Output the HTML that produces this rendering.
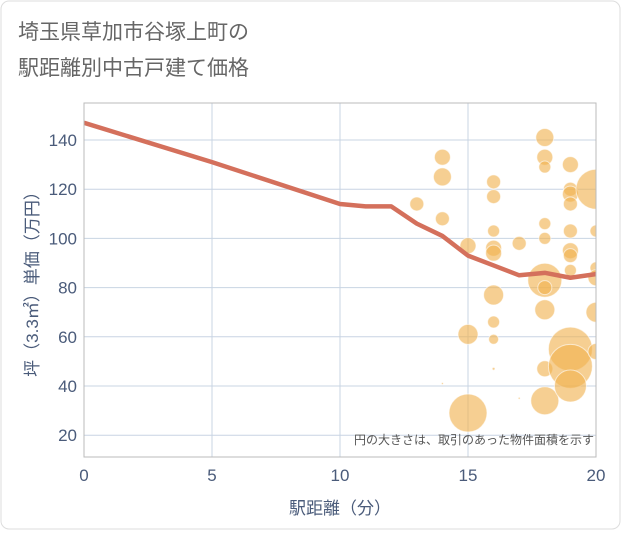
<!DOCTYPE html>
<html><head><meta charset="utf-8"><style>
body{margin:0;background:#fff;}
svg text{font-family:"Liberation Sans","Noto Sans CJK JP",sans-serif;}
</style></head><body>
<svg width="621" height="530">
<defs><clipPath id="plotclip"><rect x="84" y="103" width="512" height="354"/></clipPath></defs>
<rect x="1" y="1" width="619" height="528" rx="8" fill="#fff" stroke="#ddd"/>
<text x="18" y="39" font-size="21" fill="#666">埼玉県草加市谷塚上町の</text>
<text x="18" y="75" font-size="21" fill="#666">駅距離別中古戸建て価格</text>
<g id="grid"></g>
<g id="bubbles" clip-path="url(#plotclip)"></g>
<g id="line" clip-path="url(#plotclip)"></g>
<g id="axes"></g>
<rect x="84" y="103" width="512" height="354" fill="none" stroke="#bbb"/>
<text x="594" y="444" font-size="12" fill="#555" text-anchor="end">円の大きさは、取引のあった物件面積を示す</text>
<text x="340" y="514" font-size="17" fill="#4a5b7a" text-anchor="middle">駅距離（分）</text>
<text transform="translate(38,280) rotate(-90)" font-size="17" fill="#4a5b7a" text-anchor="middle">坪（3.3㎡）単価（万円）</text>
</svg>
<script>
const xTicks=[0,5,10,15,20];
const yTicks=[20,40,60,80,100,120,140];
const bubbleX=[14,14,13,14,15,16,16,16,16,16,17,18,18,18,18,18,18,18,18,16,16,16,15,15,18,18,19,19,19,19,19,19,19,19,19,19,19,20,20,20,20,20,20,16,14,17];
const bubbleY=[133,125,114,108,97,123,117,103,96,94,98,141,133,129,106,100,83,80,71,77,66,59,61,29,47,34,130,120,118,114,103,95,93,87,55,48,40,120,103,88,84,70,54,47,41,35];
const bubbleSize=[128,162,98,98,128,98,98,72,128,128,98,162,128,72,72,72,578,98,200,200,72,50,200,722,128,392,128,98,128,98,98,128,98,72,968,968,512,800,72,72,128,200,128,4,2,2];
const lineX=[0,5,10,11,12,13,14,15,16,17,18,19,20];
const lineY=[147,131,114,113,113,106,101,93,89,85,86,84,85.5];
const NS="http://www.w3.org/2000/svg";
const X=v=>84+v*25.6, Y=v=>140+(140-v)*2.46;
function mk(t,a,p){const e=document.createElementNS(NS,t);for(const k in a)e.setAttribute(k,a[k]);p.appendChild(e);return e;}
const g=document.getElementById('grid'),ax=document.getElementById('axes');
xTicks.forEach(v=>{
 const l=mk('line',{x1:X(v),x2:X(v),y1:103,y2:457,stroke:'#c8d4e3'},g);
 
 
 const t=mk('text',{x:X(v),y:481,'font-size':17,fill:'#4a5b7a','text-anchor':'middle'},ax);t.textContent=v;
 
 
});
yTicks.forEach(v=>{
 const l=mk('line',{x1:84,x2:596,y1:Y(v),y2:Y(v),stroke:'#c8d4e3'},g);
 
 
 const t=mk('text',{x:77,y:Y(v)+6,'font-size':17,fill:'#4a5b7a','text-anchor':'end'},ax);t.textContent=v;
 
 
});
const b=document.getElementById('bubbles');
bubbleX.forEach((x,i)=>{
 const c=mk('circle',{cx:X(x),cy:Y(bubbleY[i]),r:Math.sqrt(bubbleSize[i]/2),fill:'#f0b24f','fill-opacity':0.62,stroke:'#fff','stroke-width':1,'stroke-opacity':0.6},b);
 
 
});
const p=mk('polyline',{points:lineX.map((x,i)=>X(x)+','+Y(lineY[i])).join(' '),fill:'none',stroke:'#d4705c','stroke-width':4.5,'stroke-linejoin':'round'},document.getElementById('line'));


</script>
</body></html>
